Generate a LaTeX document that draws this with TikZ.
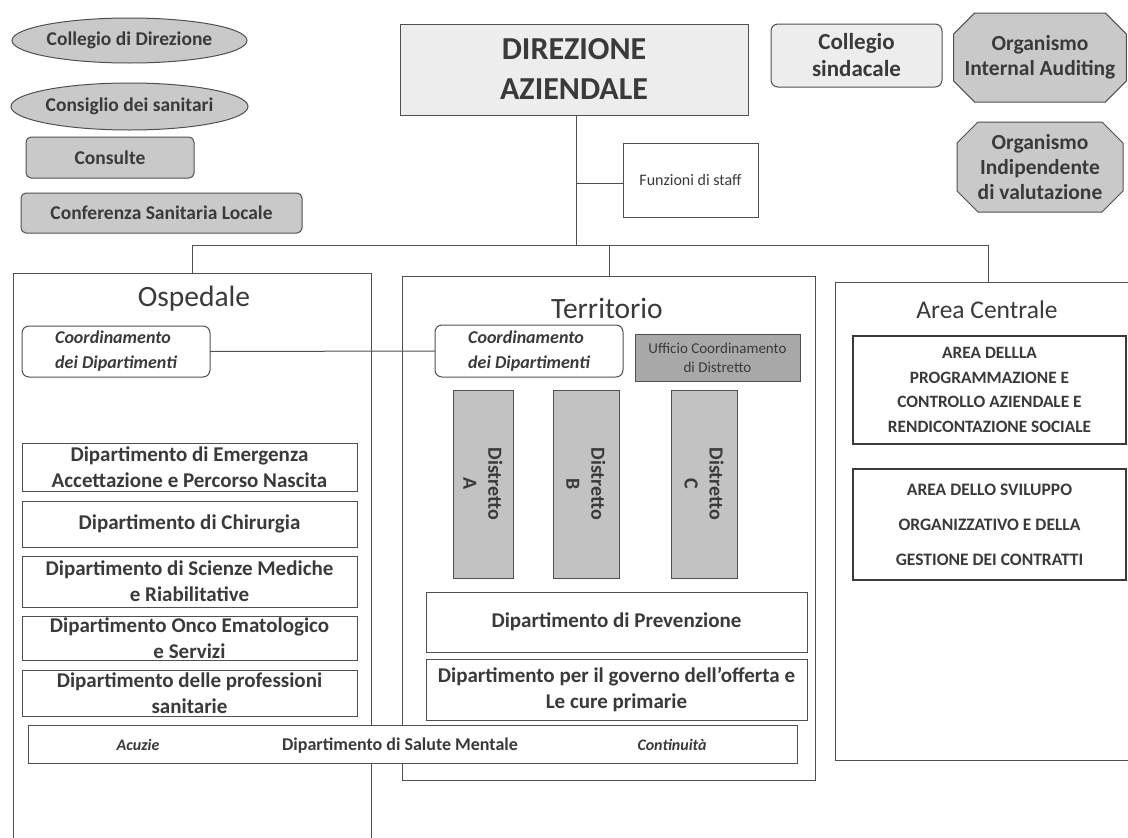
\documentclass[tikz,border=0pt]{standalone}
\usepackage{fontspec}
\setmainfont{Carlito}
\usetikzlibrary{shapes.geometric,shapes.misc}
\definecolor{txt}{HTML}{3A3A3A}
\definecolor{edge}{HTML}{505050}
\definecolor{g1}{HTML}{C9C9C9}
\definecolor{g2}{HTML}{EDEDED}
\definecolor{g3}{HTML}{A8A8A8}
\definecolor{g4}{HTML}{C2C2C2}
\newcommand\myfs[2]{\fontsize{#1}{#2}\selectfont}
\tikzset{
  base/.style={inner sep=0pt,outer sep=0pt,text=txt,align=center,draw=edge,line width=1pt},
  sz/.style 2 args={minimum width=#1pt,minimum height=#2pt},
  ovalbox/.style={base,ellipse,fill=g1,font=\bfseries\myfs{19.5}{23}},
  graybox/.style={base,rounded corners=5pt,fill=g1,font=\bfseries\myfs{19.5}{23}},
  sindbox/.style={base,rounded corners=7pt,fill=g2,font=\bfseries\myfs{23}{27}},
  octbox/.style={base,chamfered rectangle,chamfered rectangle xsep=11pt,chamfered rectangle ysep=10pt,fill=g1,font=\bfseries\myfs{21.5}{25}},
  panel/.style={base,draw=edge,line width=0.9pt},
  title/.style={inner sep=0pt,text=txt,font=\myfs{29.5}{32}},
  coordbox/.style={base,rounded corners=7pt,fill=white,align=left,font=\bfseries\itshape\myfs{18}{25}},
  deptbox/.style={base,fill=white,font=\bfseries\myfs{21}{26}},
  distbox/.style={base,fill=g4},
  disttext/.style={rotate=-90,text=txt,align=center,font=\bfseries\myfs{20}{25}},
  areabox/.style={base,line width=2.2pt,draw=txt,fill=white,font=\bfseries\myfs{17.3}{24.5}},
  conn/.style={draw=edge,line width=1pt}
}
\begin{document}
\begin{tikzpicture}[x=1pt,y=-1pt]
\useasboundingbox (0,0) rectangle (1128,838);
\fill[white] (0,0) rectangle (1128,838);

% top-left bodies
\node[ovalbox,sz={235}{45}] (cdir) at (129.5,40.5) {Collegio di Direzione};
\node[ovalbox,sz={235}{47}] (csan) at (129.5,106.5) {Consiglio dei sanitari};
\node[graybox,sz={168}{41}] (cons) at (110,157.5) {Consulte};
\node[graybox,sz={281}{40}] (conf) at (161.5,213) {Conferenza Sanitaria Locale};

% direzione
\node[base,fill=g2,sz={348}{91},font=\bfseries\myfs{32}{40}] (dir) at (574,69.5) {DIREZIONE\\AZIENDALE};
\node[base,fill=white,sz={135}{74},font=\myfs{16}{18}] (staff) at (690.5,180) {Funzioni di staff};

% top-right bodies
\node[sindbox,sz={171}{63}] (sind) at (856.5,55.5) {Collegio\\sindacale};
\node[octbox,sz={166}{89}] (oia) at (1040,57.5) {Organismo\\Internal Auditing};
\node[octbox,sz={166}{90}] (oiv) at (1040,167) {Organismo\\Indipendente\\di valutazione};

% panels
\node[panel,sz={358}{572}] (osp) at (192,559) {};
\node[panel,sz={413}{504}] (ter) at (608.5,528) {};
\node[panel,sz={305}{478}] (arc) at (987.5,521) {};
\node[title] (ospT) at (194,299) {Ospedale};
\node[title] (terT) at (607,308) {Territorio};
\node[title,font=\myfs{25.5}{28}] (arcT) at (987,310) {Area Centrale};

% connectors
\coordinate (busM) at (576,245);
\coordinate (busL) at (192,245);
\coordinate (busC) at (609,245);
\coordinate (busR) at (988,245);
\coordinate (stf) at (576,183);
\draw[conn] (dir.south -| busM) -- (busM);
\draw[conn] (stf) -- (staff.west |- stf);
\draw[conn] (busL) -- (busR);
\draw[conn] (busL) -- (busL |- osp.north);
\draw[conn] (busC) -- (busC |- ter.north);
\draw[conn] (busR) -- (busR |- arc.north);

% Ospedale contents
\node[coordbox,sz={188}{51}] (coordO) at (116,351.5) {Coordinamento\\dei Dipartimenti};
\node[deptbox,sz={335}{48}] (d1) at (189.5,467) {Dipartimento di Emergenza\\Accettazione e Percorso Nascita};
\node[deptbox,sz={335}{46}] (d2) at (189.5,524) {Dipartimento di Chirurgia};
\node[deptbox,sz={335}{51}] (d3) at (189.5,581.5) {Dipartimento di Scienze Mediche\\e Riabilitative};
\node[deptbox,sz={335}{44}] (d4) at (189.5,638) {Dipartimento Onco Ematologico\\e Servizi};
\node[deptbox,sz={335}{46}] (d5) at (189.5,693) {Dipartimento delle professioni\\sanitarie};

% Territorio contents
\node[coordbox,sz={188}{52}] (coordT) at (529,351) {Coordinamento\\dei Dipartimenti};
\draw[conn] (coordO.east) -- (coordT.west);
\node[base,fill=g3,sz={165}{47},font=\myfs{15}{19}] (uff) at (717.5,357.5) {Ufficio Coordinamento\\di Distretto};
\node[distbox,sz={60}{188}] (dA) at (483,484) {};
\node[distbox,sz={66}{188}] (dB) at (586,484) {};
\node[distbox,sz={66}{188}] (dC) at (704,484) {};
\node[disttext] (tA) at (dA.center) {Distretto\\A};
\node[disttext] (tB) at (dB.center) {Distretto\\B};
\node[disttext] (tC) at (dC.center) {Distretto\\C};
\node[deptbox,sz={381}{60}] (prev) at (616.5,622) {Dipartimento di Prevenzione};
\node[deptbox,sz={381}{61}] (gov) at (616.5,689.5) {Dipartimento per il governo dell'offerta e\\Le cure primarie};

% Salute mentale
\node[deptbox,sz={769}{38}] (sm) at (412.5,744) {};
\node[text=txt,anchor=base,font=\bfseries\myfs{18}{22}] (smT) at (400,750) {Dipartimento di Salute Mentale};
\node[text=txt,anchor=base,font=\bfseries\itshape\myfs{16}{20}] (smA) at (138,750) {Acuzie};
\node[text=txt,anchor=base,font=\bfseries\itshape\myfs{16}{20}] (smC) at (672,750) {Continuità};

% Area centrale contents
\node[areabox,sz={273}{108}] (a1) at (989.5,390) {AREA DELLLA\\PROGRAMMAZIONE E\\CONTROLLO AZIENDALE E\\RENDICONTAZIONE SOCIALE};
\node[areabox,sz={273}{111},font=\bfseries\myfs{17.5}{35}] (a2) at (989.5,524.5) {AREA DELLO SVILUPPO\\ORGANIZZATIVO E DELLA\\GESTIONE DEI CONTRATTI};
\end{tikzpicture}
\end{document}
